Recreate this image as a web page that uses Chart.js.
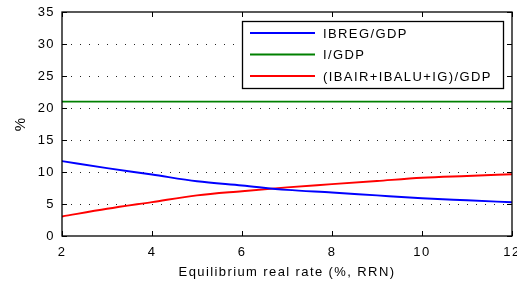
<!DOCTYPE html>
<html lang="en">
<head>
    <meta charset="UTF-8">
    <title>Equilibrium real rate</title>
    <script src="https://cdn.jsdelivr.net/npm/chart.js"></script>
    <style>
        html, body { margin: 0; padding: 0; background: #ffffff; }
        #wrap { width: 517px; height: 286px; }
    </style>
</head>
<body>
    <div id="wrap"><canvas id="rrnChart" width="517" height="286"></canvas></div>

    <script>
        // values
        const rates = [2, 3, 4, 5, 6, 7, 8, 9, 10, 11, 12];
        const ibregGdp = [11.7, 10.6, 9.6, 8.55, 7.9, 7.2, 6.8, 6.34, 5.9, 5.58, 5.27];
        const iGdp = [21, 21, 21, 21, 21, 21, 21, 21, 21, 21, 21];
        const ibairGdp = [3.05, 4.25, 5.3, 6.35, 7.0, 7.6, 8.1, 8.6, 9.1, 9.38, 9.65];
        const xTicks = [2, 4, 6, 8, 10, 12];
        const yTicks = [0, 5, 10, 15, 20, 25, 30, 35];
        const seriesNames = ['IBREG/GDP', 'I/GDP', '(IBAIR+IBALU+IG)/GDP'];

        const FONT = '"Liberation Sans", Arial, sans-serif';
        const SPACING = '1.4px';

        const toPoints = (ys) => rates.map((x, i) => ({ x: x, y: ys[i] }));

        // matlab style box, inward ticks and legend
        const matlabBox = {
            id: 'matlabBox',
            beforeUpdate(chart) { chart.ctx.letterSpacing = SPACING; },
            beforeDraw(chart) { chart.ctx.letterSpacing = SPACING; },
            afterDraw(chart) {
                const ctx = chart.ctx;
                const a = chart.chartArea;
                const xs = chart.scales.x, ys = chart.scales.y;
                ctx.save();
                ctx.strokeStyle = '#000';
                ctx.lineWidth = 1.3;
                ctx.strokeRect(a.left, a.top, a.right - a.left, a.bottom - a.top);

                ctx.lineWidth = 1;
                ctx.beginPath();
                xTicks.forEach(v => {
                    const px = Math.round(xs.getPixelForValue(v)) + 0.5;
                    ctx.moveTo(px, a.bottom); ctx.lineTo(px, a.bottom - 5);
                    ctx.moveTo(px, a.top); ctx.lineTo(px, a.top + 5);
                });
                yTicks.forEach(v => {
                    const py = Math.round(ys.getPixelForValue(v)) + 0.5;
                    ctx.moveTo(a.left, py); ctx.lineTo(a.left + 5, py);
                    ctx.moveTo(a.right, py); ctx.lineTo(a.right - 5, py);
                });
                ctx.stroke();

                // legend
                const bx = 242, by = 21, bw = 261, bh = 67;
                ctx.fillStyle = '#fff';
                ctx.fillRect(bx, by, bw, bh);
                ctx.lineWidth = 1.3;
                ctx.strokeRect(bx + 0.5, by + 0.5, bw, bh);
                ctx.font = '13px ' + FONT;
                ctx.textBaseline = 'middle';
                ctx.textAlign = 'left';
                chart.data.datasets.forEach((ds, i) => {
                    const y = by + 12 + i * 21.5;
                    ctx.strokeStyle = ds.borderColor;
                    ctx.lineWidth = 1.8;
                    ctx.beginPath();
                    ctx.moveTo(bx + 8, y); ctx.lineTo(bx + 73, y);
                    ctx.stroke();
                    ctx.fillStyle = '#000';
                    ctx.fillText(ds.label, bx + 81, y + 1);
                });
                ctx.restore();
            }
        };

        const ctx = document.getElementById('rrnChart').getContext('2d');
        const rrnChart = new Chart(ctx, {
            type: 'line',
            data: {
                datasets: [
                    { label: seriesNames[0], data: toPoints(ibregGdp), borderColor: '#0000ff', borderWidth: 1.9, pointRadius: 0, cubicInterpolationMode: 'monotone', fill: false },
                    { label: seriesNames[1], data: toPoints(iGdp), borderColor: '#008000', borderWidth: 1.9, pointRadius: 0, fill: false },
                    { label: seriesNames[2], data: toPoints(ibairGdp), borderColor: '#ff0000', borderWidth: 1.9, pointRadius: 0, cubicInterpolationMode: 'monotone', fill: false }
                ]
            },
            options: {
                responsive: false,
                animation: false,
                events: [],
                layout: { padding: { top: 12, right: 5, left: 0, bottom: 0 } },
                plugins: { legend: { display: false }, tooltip: { enabled: false } },
                scales: {
                    x: {
                        type: 'linear', min: 2, max: 12,
                        afterBuildTicks: (s) => { s.ticks = xTicks.map(v => ({ value: v })); },
                        afterFit: (s) => { s.height = 50; s.paddingLeft = 0; s.paddingRight = 0; },
                        grid: { display: false, drawTicks: false },
                        border: { display: false },
                        ticks: { color: '#000', padding: 9, maxRotation: 0, font: { family: FONT, size: 13 } },
                        title: { display: true, text: 'Equilibrium real rate (%, RRN)', color: '#000', padding: { top: 0, bottom: 6 }, font: { family: FONT, size: 13 } }
                    },
                    y: {
                        min: 0, max: 35,
                        afterBuildTicks: (s) => { s.ticks = yTicks.map(v => ({ value: v })); },
                        afterFit: (s) => { s.width = 62; s.paddingTop = 0; s.paddingBottom = 0; },
                        grid: {
                            drawTicks: false,
                            color: (c) => (c.tick && (c.tick.value === 0 || c.tick.value === 35)) ? 'rgba(0,0,0,0)' : '#222',
                            lineWidth: 1
                        },
                        border: { display: false, dash: [1, 8] },
                        ticks: { color: '#000', padding: 7, font: { family: FONT, size: 13 } },
                        title: { display: true, text: '%', color: '#000', padding: { top: 12, bottom: 0 }, font: { family: FONT, size: 15 } }
                    }
                }
            },
            plugins: [matlabBox]
        });
    </script>
</body>
</html>
